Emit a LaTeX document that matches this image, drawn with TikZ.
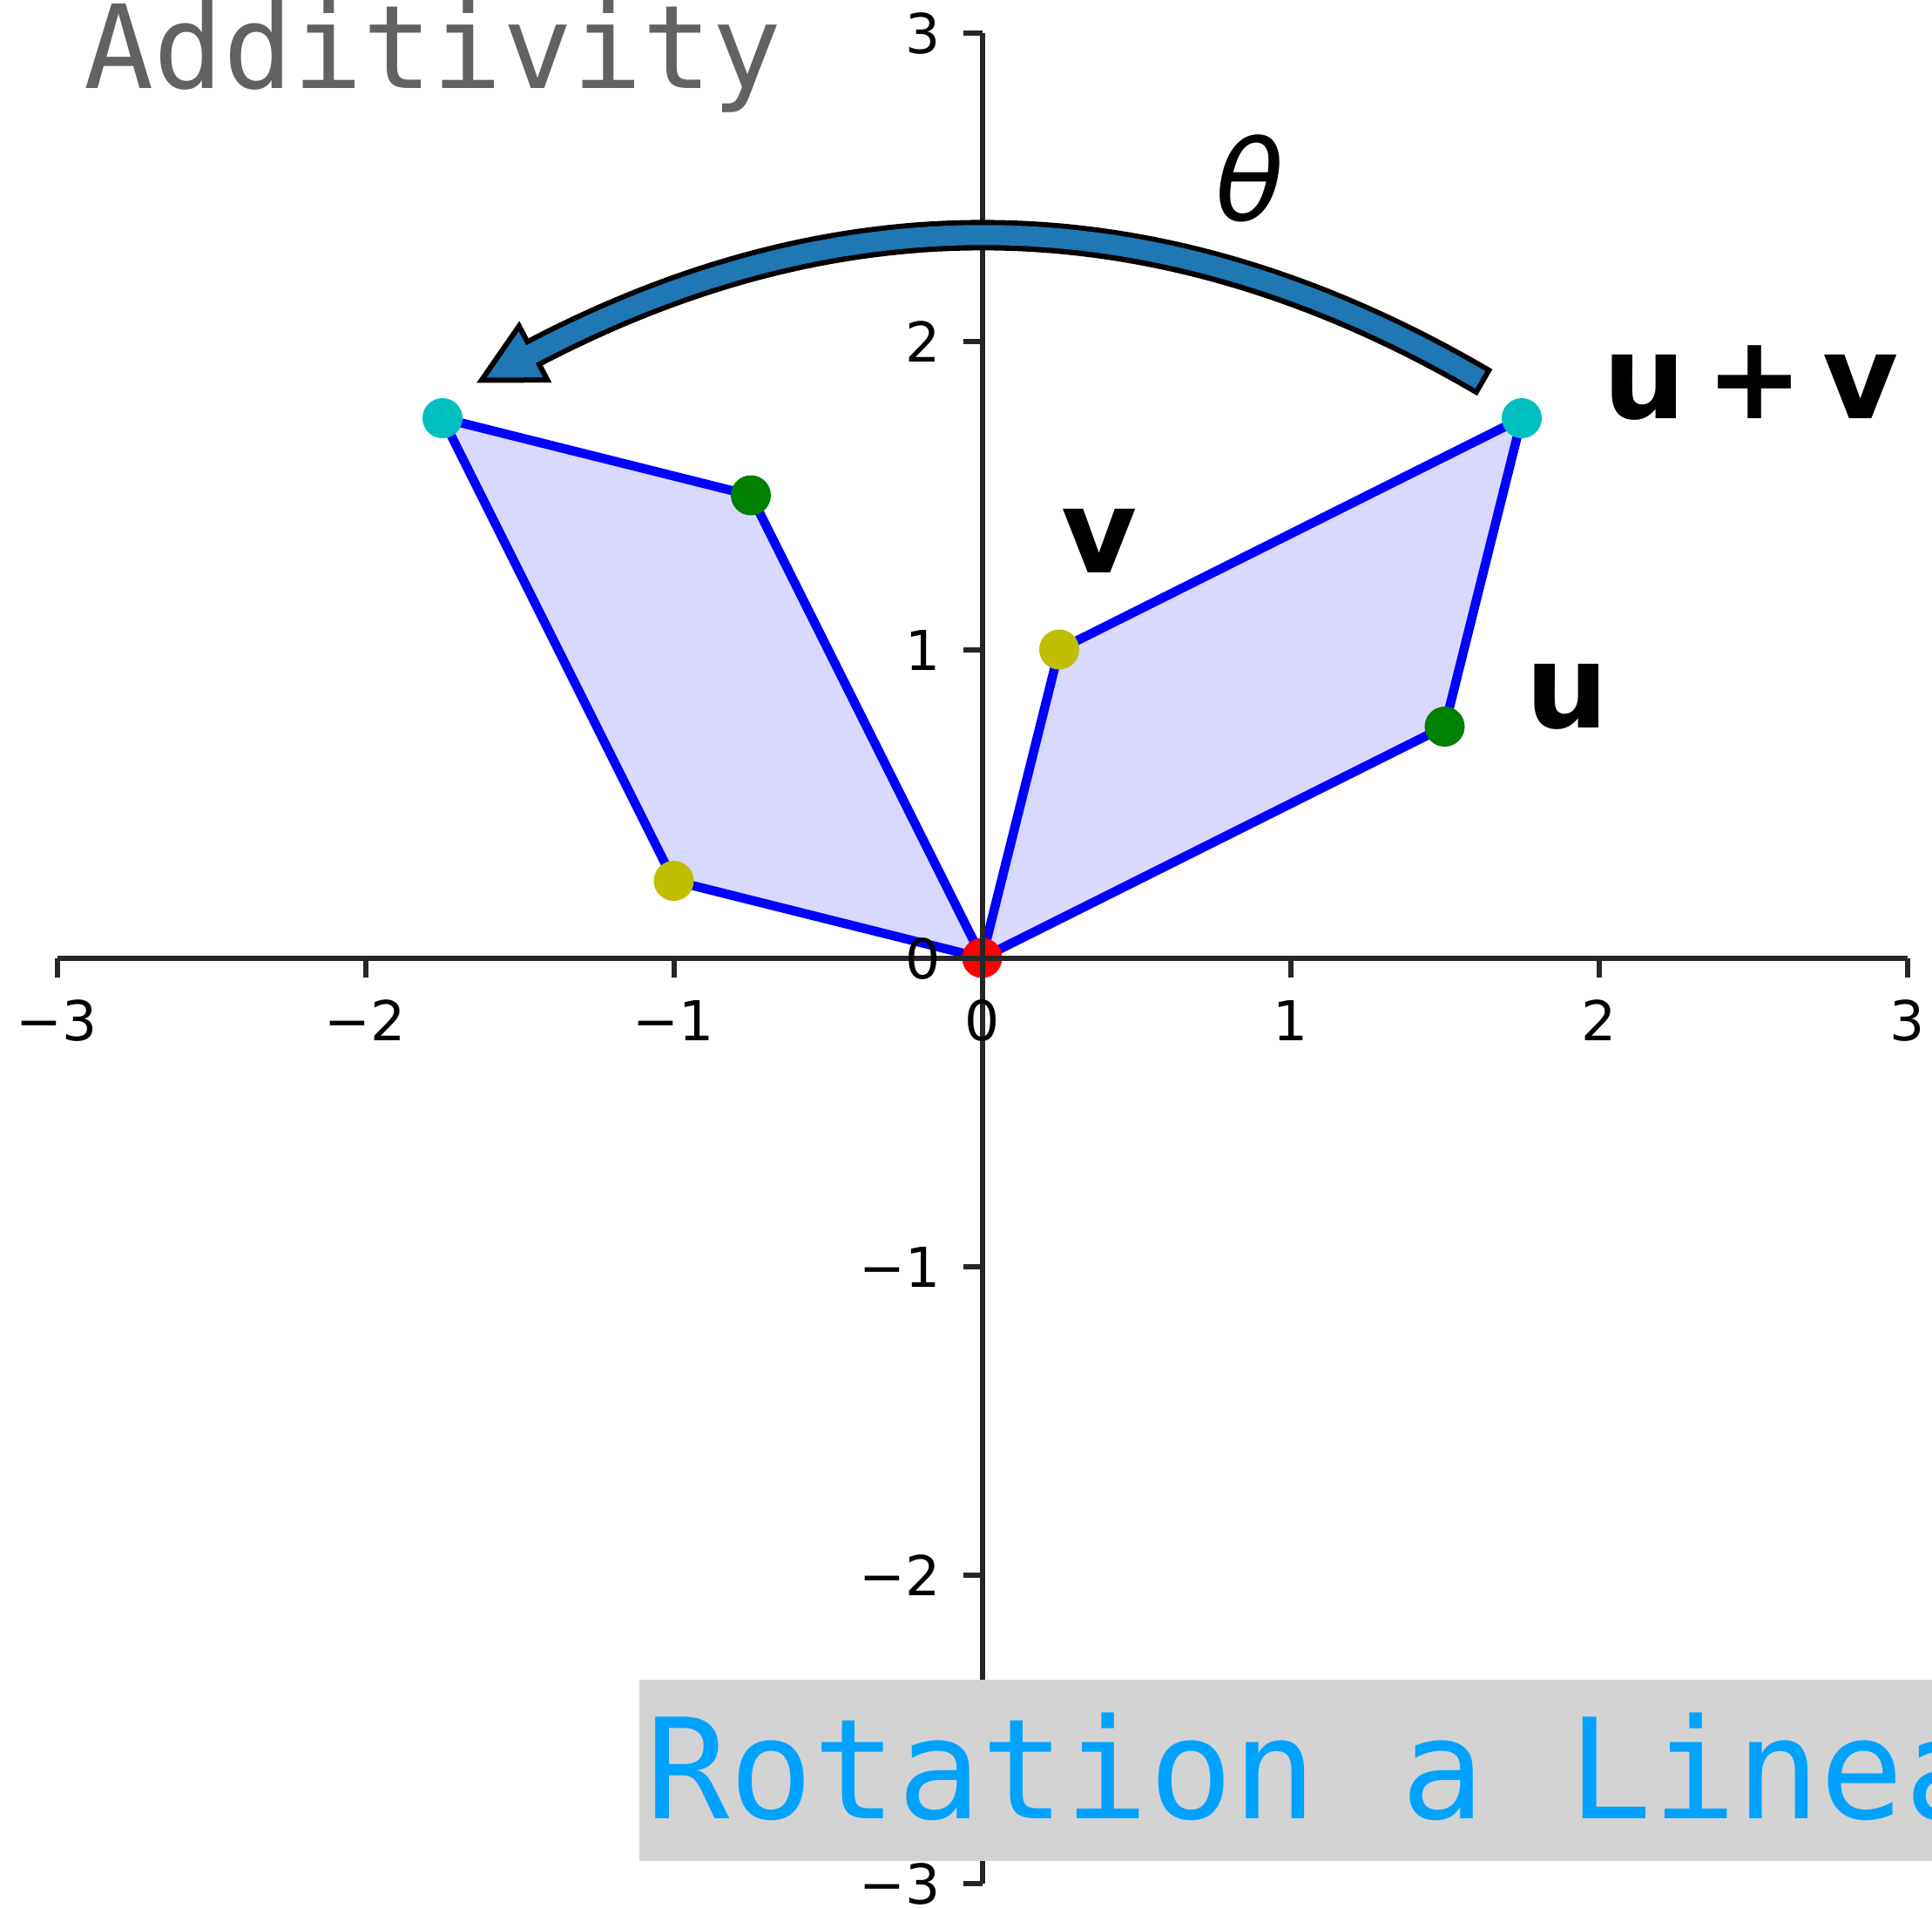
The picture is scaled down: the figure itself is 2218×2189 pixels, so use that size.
\documentclass[tikz,border=0pt]{standalone}
\usepackage{fontspec}
\setmainfont{DejaVu Sans}
\newfontfamily\monofam{DejaVu Sans Mono}
\definecolor{polyfill}{HTML}{D9D9FF}
\definecolor{polyedge}{HTML}{0000FF}
\definecolor{mplblue}{HTML}{1F77B4}
\definecolor{dotc}{HTML}{00BFBF}
\definecolor{doty}{HTML}{BFBF00}
\definecolor{dotg}{HTML}{008000}
\definecolor{dotr}{HTML}{FF0000}
\definecolor{txtgray}{HTML}{626262}
\definecolor{rotblue}{HTML}{00A2FF}
\definecolor{boxgray}{HTML}{D3D3D3}
\definecolor{axiscol}{HTML}{262626}
\begin{document}
\begin{tikzpicture}[x=0.16pt,y=-0.16pt,
  poly/.style={fill=polyfill,draw=polyedge,line width=1.68pt,line join=miter},
  axisline/.style={draw=axiscol,line width=0.96pt},
  ticklab/.style={inner sep=0pt,font=\fontsize{10.1pt}{12pt}\selectfont},
  veclab/.style={inner sep=0pt,font=\fontsize{21.4pt}{25pt}\selectfont\bfseries},
  dot/.style={line width=0pt}]
\useasboundingbox (0,0) rectangle (2218,2189);
\clip (0,0) rectangle (2218,2189);

% points
\coordinate (O) at (1127.5,1099.5);
\coordinate (U) at (1658.5,834);
\coordinate (V) at (1216,745.5);
\coordinate (UV) at (1747,480);
\coordinate (RU) at (862,568.5);
\coordinate (RV) at (773.5,1011);
\coordinate (RUV) at (508,480);

% parallelograms
\filldraw[poly] (O) -- (U) -- (UV) -- (V) -- cycle;
\filldraw[poly] (O) -- (RU) -- (RUV) -- (RV) -- cycle;

% dots
\fill[dotg] (U) circle[radius=23];
\fill[doty] (V) circle[radius=23];
\fill[dotc] (UV) circle[radius=23];
\fill[dotg] (RU) circle[radius=23];
\fill[doty] (RV) circle[radius=23];
\fill[dotc] (RUV) circle[radius=23];
\fill[dotr] (O) circle[radius=23];

% axes
\coordinate (XL) at (65.5,1099.5);
\coordinate (XR) at (2189.5,1099.5);
\coordinate (YT) at (1127.5,37.5);
\coordinate (YB) at (1127.5,2161.5);
\draw[axisline] (XL) -- (XR);
\draw[axisline] (YT) -- (YB);
\foreach \k/\t in {-3/−3,-2/−2,-1/−1,0/0,1/1,2/2,3/3}{
  \coordinate (xt\k) at ({1127.5+354*\k},1099.5);
  \coordinate (xe\k) at ({1127.5+354*\k},1121.5);
  \draw[axisline] (xt\k) -- (xe\k);
  \node[ticklab,anchor=base] (xl\k) at ({1127.5+354*\k},1194) {\t};
  \coordinate (yt\k) at (1127.5,{1099.5-354*\k});
  \coordinate (ye\k) at (1105.5,{1099.5-354*\k});
  \draw[axisline] (yt\k) -- (ye\k);
  \node[ticklab,anchor=base east] (yl\k) at (1081,{1099.5-354*\k+24}) {\t};
}

% rotation arrow
\coordinate (A0b) at (1704.6,439.0);
\coordinate (A0) at (1702,437.5);
\coordinate (A0i) at (1699.4,436.0);
\coordinate (C1) at (1338.7,225.4);
\coordinate (C2) at (975.5,214.6);
\coordinate (AB) at (612.2,405.2);
\coordinate (ABx) at (607.0,407.9);
\coordinate (W1) at (628.5,436.2);
\coordinate (W2) at (595.9,374.2);
\coordinate (TIP) at (552.9,436.3);
\draw[black,line width=5.6pt] (A0b) -- (A0) .. controls (C1) and (C2) .. (AB);
\filldraw[fill=mplblue,draw=black,line width=0.96pt,miter limit=10] (W1) -- (TIP) -- (W2) -- cycle;
\draw[mplblue,line width=3.68pt] (A0i) .. controls (C1) and (C2) .. (AB) -- (ABx);

% labels
\node[veclab,anchor=base west] (luv) at (1839,480) {u\hspace{0.17em}+\hspace{0.17em}v};
\node[veclab,anchor=base west] (lv) at (1217,657.5) {v};
\node[veclab,anchor=base west] (lu) at (1750.5,835) {u};
\node[inner sep=0pt,anchor=base west,font=\fontsize{20.6pt}{25pt}\selectfont\itshape] (lth) at (1394,253) {θ};

% title box
\coordinate (BX1) at (734,1928.3);
\coordinate (BX2) at (2300,2136);
\fill[boxgray] (BX1) rectangle (BX2);
\node[inner sep=0pt,anchor=base west,text=rotblue,font=\fontsize{25.6pt}{30pt}\selectfont\monofam] (rot) at (740,2087.3) {Rotation a Linea};

\node[inner sep=0pt,anchor=base west,text=txtgray,font=\fontsize{21.3pt}{25pt}\selectfont\monofam] (add) at (95,101.7) {Additivity};
\end{tikzpicture}
\end{document}
